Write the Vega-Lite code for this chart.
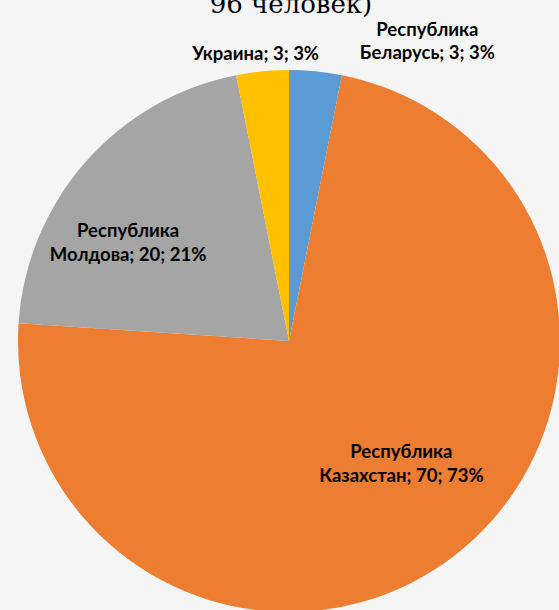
{
  "$schema": "https://vega.github.io/schema/vega-lite/v6.json",
  "autosize": {"type": "none"},
  "width": 540,
  "height": 538,
  "padding": {"left": 19, "top": 72, "right": 0, "bottom": 0},
  "background": "#f5f5f5",
  "title": {
    "text": "96 человек)",
    "font": "DejaVu Serif",
    "fontSize": 26,
    "fontWeight": "normal",
    "color": "#000000",
    "anchor": "middle",
    "frame": "group",
    "baseline": "alphabetic",
    "offset": 4,
    "dx": 2,
    "dy": 22
  },
  "data": {
    "values": [
      {"country": "Республика Беларусь", "count": 3, "label": "Республика\nБеларусь; 3; 3%"},
      {"country": "Республика Казахстан", "count": 70, "label": "Республика\nКазахстан; 70; 73%"},
      {"country": "Республика Молдова", "count": 20, "label": "Республика\nМолдова; 20; 21%"},
      {"country": "Украина", "count": 3, "label": "Украина; 3; 3%"}
    ]
  },
  "encoding": {
    "theta": {"field": "count", "type": "quantitative", "stack": true},
    "color": {
      "field": "country",
      "type": "nominal",
      "scale": {
        "domain": ["Республика Беларусь", "Республика Казахстан", "Республика Молдова", "Украина"],
        "range": ["#5B9BD5", "#ED7D31", "#A5A5A5", "#FFC000"]
      },
      "legend": null
    }
  },
  "layer": [
    {"mark": {"type": "arc", "outerRadius": 271, "stroke": null}},
    {
      "mark": {"type": "text", "radius": 300, "dx": 109, "dy": -12, "font": "Lato", "fontSize": 18.5, "fontWeight": "bold", "lineBreak": "\n", "lineHeight": 23, "align": "center", "baseline": "middle", "fill": "#000000"},
      "encoding": {"text": {"condition": {"test": "datum.country === 'Республика Беларусь'", "field": "label"}, "value": ""}}
    },
    {
      "mark": {"type": "text", "radius": 290, "dx": -5, "dy": 2, "font": "Lato", "fontSize": 18.5, "fontWeight": "bold", "lineBreak": "\n", "lineHeight": 23, "align": "center", "baseline": "middle", "fill": "#000000"},
      "encoding": {"text": {"condition": {"test": "datum.country === 'Украина'", "field": "label"}, "value": ""}}
    },
    {
      "mark": {"type": "text", "radius": 190, "dx": -18, "dy": 15, "font": "Lato", "fontSize": 18.5, "fontWeight": "bold", "lineBreak": "\n", "lineHeight": 24, "align": "center", "baseline": "middle", "fill": "#000000"},
      "encoding": {"text": {"condition": {"test": "datum.country === 'Республика Молдова'", "field": "label"}, "value": ""}}
    },
    {
      "mark": {"type": "text", "radius": 160, "dx": 15, "dy": -16, "font": "Lato", "fontSize": 18.5, "fontWeight": "bold", "lineBreak": "\n", "lineHeight": 24, "align": "center", "baseline": "middle", "fill": "#000000"},
      "encoding": {"text": {"condition": {"test": "datum.country === 'Республика Казахстан'", "field": "label"}, "value": ""}}
    }
  ],
  "config": {"view": {"stroke": null}}
}
